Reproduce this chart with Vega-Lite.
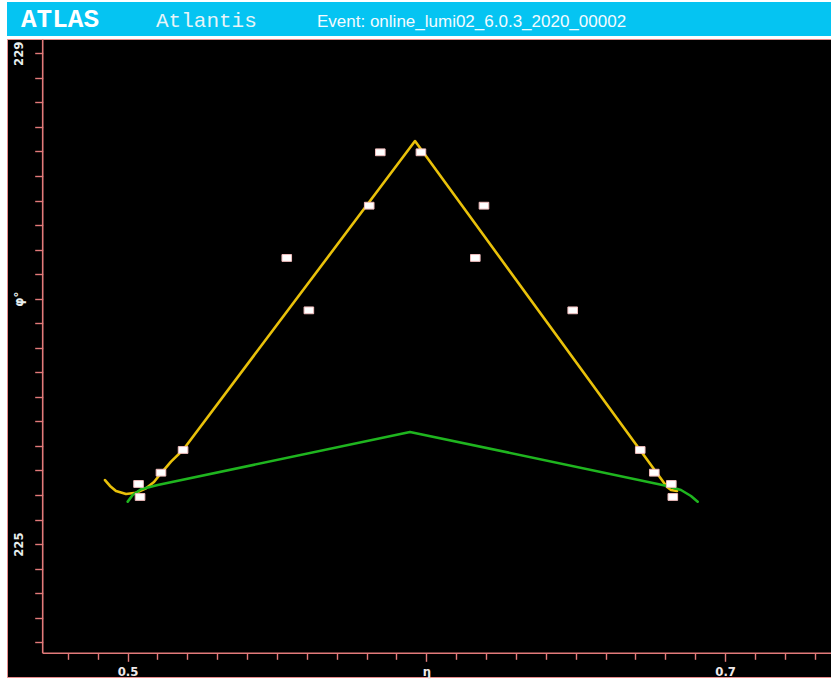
{
  "$schema": "https://vega.github.io/schema/vega-lite/v6.json",
  "background": "#ffffff",
  "padding": {"left": 6, "top": 2, "right": 0, "bottom": 2},
  "spacing": 3,
  "bounds": "flush",
  "config": {"view": {"stroke": null}},
  "datasets": {
    "frame": [
      {"eta": 0.47162, "eta2": 0.47162, "phi": 224.11, "phi2": 229.1165},
      {"eta": 0.47162, "eta2": 0.736111, "phi": 224.11, "phi2": 224.11}
    ],
    "tracks": [
      {"track": "outer", "eta": 0.49247, "phi": 225.522},
      {"track": "outer", "eta": 0.49414, "phi": 225.474},
      {"track": "outer", "eta": 0.49615, "phi": 225.433},
      {"track": "outer", "eta": 0.4995, "phi": 225.408},
      {"track": "outer", "eta": 0.50284, "phi": 225.419},
      {"track": "outer", "eta": 0.50619, "phi": 225.455},
      {"track": "outer", "eta": 0.50887, "phi": 225.506},
      {"track": "outer", "eta": 0.51121, "phi": 225.577},
      {"track": "outer", "eta": 0.51456, "phi": 225.672},
      {"track": "outer", "eta": 0.51857, "phi": 225.767},
      {"track": "outer", "eta": 0.59622, "phi": 228.285},
      {"track": "outer", "eta": 0.68056, "phi": 225.465},
      {"track": "outer", "eta": 0.6819, "phi": 225.441},
      {"track": "outer", "eta": 0.6839, "phi": 225.433},
      {"track": "inner", "eta": 0.50007, "phi": 225.346},
      {"track": "inner", "eta": 0.50174, "phi": 225.4},
      {"track": "inner", "eta": 0.50452, "phi": 225.447},
      {"track": "inner", "eta": 0.51011, "phi": 225.482},
      {"track": "inner", "eta": 0.59454, "phi": 225.914},
      {"track": "inner", "eta": 0.68022, "phi": 225.476},
      {"track": "inner", "eta": 0.68524, "phi": 225.441},
      {"track": "inner", "eta": 0.68858, "phi": 225.392},
      {"track": "inner", "eta": 0.69083, "phi": 225.346}
    ],
    "hits": [
      {"eta": 0.5846, "phi": 228.193},
      {"eta": 0.5982, "phi": 228.193},
      {"eta": 0.5809, "phi": 227.758},
      {"eta": 0.6193, "phi": 227.758},
      {"eta": 0.5533, "phi": 227.332},
      {"eta": 0.6164, "phi": 227.332},
      {"eta": 0.5607, "phi": 226.905},
      {"eta": 0.649, "phi": 226.905},
      {"eta": 0.5186, "phi": 225.767},
      {"eta": 0.5112, "phi": 225.582},
      {"eta": 0.5037, "phi": 225.49},
      {"eta": 0.5042, "phi": 225.384},
      {"eta": 0.6716, "phi": 225.767},
      {"eta": 0.6763, "phi": 225.582},
      {"eta": 0.682, "phi": 225.49},
      {"eta": 0.6825, "phi": 225.384}
    ]
  },
  "vconcat": [
    {
      "width": 826,
      "height": 34,
      "view": {"fill": "#05c4f2", "stroke": null},
      "layer": [
        {
          "data": {"values": [{"label": "ATLAS"}]},
          "mark": {"type": "text", "font": "Liberation Mono", "fontSize": 26, "fontWeight": "bold", "color": "#ffffff", "align": "left", "baseline": "alphabetic"},
          "encoding": {"text": {"field": "label"}, "x": {"value": 14}, "y": {"value": 24.7}}
        },
        {
          "data": {"values": [{"label": "Atlantis"}]},
          "mark": {"type": "text", "font": "Liberation Mono", "fontSize": 21, "color": "#e8f4f8", "align": "left", "baseline": "alphabetic"},
          "encoding": {"text": {"field": "label"}, "x": {"value": 149}, "y": {"value": 25}}
        },
        {
          "data": {"values": [{"label": "Event: online_lumi02_6.0.3_2020_00002"}]},
          "mark": {"type": "text", "font": "Liberation Sans", "fontSize": 17, "color": "#f4fbff", "align": "left", "baseline": "alphabetic"},
          "encoding": {"text": {"field": "label"}, "x": {"value": 310}, "y": {"value": 25}}
        }
      ]
    },
    {
      "width": 826,
      "height": 638,
      "view": {"fill": "#000000", "stroke": "#e88c8c", "strokeWidth": 1},
      "encoding": {
        "x": {
          "field": "eta", "type": "quantitative",
          "scale": {"domain": [0.459672, 0.736111], "nice": false, "zero": false},
          "axis": {
            "orient": "bottom", "offset": -23.7, "title": null, "domain": false, "grid": false,
            "values": [0.48, 0.49, 0.5, 0.51, 0.52, 0.53, 0.54, 0.55, 0.56, 0.57, 0.58, 0.59, 0.6, 0.61, 0.62, 0.63, 0.64, 0.65, 0.66, 0.67, 0.68, 0.69, 0.7, 0.71, 0.72, 0.73],
            "labelExpr": "datum.value == 0.5 ? '0.5' : datum.value == 0.7 ? '0.7' : datum.value == 0.6 ? 'η' : ''",
            "labelFont": "Liberation Sans Narrow, DejaVu Sans Condensed, Arial Narrow, sans-serif",
            "labelFontSize": 13, "labelFontWeight": "bold", "labelColor": "#eee8e8",
            "labelPadding": 4, "labelFlush": false, "labelOverlap": false, "labelBound": false,
            "tickColor": "#e27a7a", "tickWidth": 1.4,
            "tickSize": {"condition": {"test": "datum.value == 0.5 || datum.value == 0.6 || datum.value == 0.7", "value": 8}, "value": 6},
            "minExtent": 0
          }
        },
        "y": {
          "field": "phi", "type": "quantitative",
          "scale": {"domain": [223.9169, 229.1165], "nice": false, "zero": false},
          "axis": {
            "orient": "left", "offset": -35.7, "title": null, "domain": false, "grid": false,
            "values": [224.2, 224.4, 224.6, 224.8, 225, 225.2, 225.4, 225.6, 225.8, 226, 226.2, 226.4, 226.6, 226.8, 227, 227.2, 227.4, 227.6, 227.8, 228, 228.2, 228.4, 228.6, 228.8, 229],
            "labelExpr": "datum.value == 229 ? '229' : datum.value == 225 ? '225' : datum.value == 227 ? 'φ°' : ''",
            "labelAngle": -90, "labelAlign": "center", "labelBaseline": "bottom",
            "labelFont": "Liberation Sans Narrow, DejaVu Sans Condensed, Arial Narrow, sans-serif",
            "labelFontSize": 13, "labelFontWeight": "bold", "labelColor": "#e8eeee",
            "labelPadding": 9, "labelFlush": false, "labelOverlap": false, "labelBound": false,
            "tickColor": "#e27a7a", "tickWidth": 1.4, "tickSize": 8,
            "minExtent": 0
          }
        }
      },
      "layer": [
        {
          "data": {"name": "frame"},
          "mark": {"type": "rule", "color": "#e27a7a", "strokeWidth": 1.6},
          "encoding": {
            "x2": {"field": "eta2"},
            "y2": {"field": "phi2"}
          }
        },
        {
          "data": {"name": "tracks"},
          "transform": [{"filter": "datum.track == 'outer'"}],
          "mark": {"type": "line", "color": "#e9c10a", "strokeWidth": 2.6, "strokeJoin": "round", "strokeCap": "round"}
        },
        {
          "data": {"name": "tracks"},
          "transform": [{"filter": "datum.track == 'inner'"}],
          "mark": {"type": "line", "color": "#1fb51f", "strokeWidth": 2.6, "strokeJoin": "round", "strokeCap": "round"}
        },
        {
          "data": {"name": "hits"},
          "mark": {"type": "point", "shape": "M-1.2,-0.85H1.2V0.85H-1.2Z", "size": 64, "filled": true, "fill": "#ffffff", "stroke": "#f0bcbc", "strokeWidth": 1, "opacity": 1}
        }
      ]
    }
  ]
}
